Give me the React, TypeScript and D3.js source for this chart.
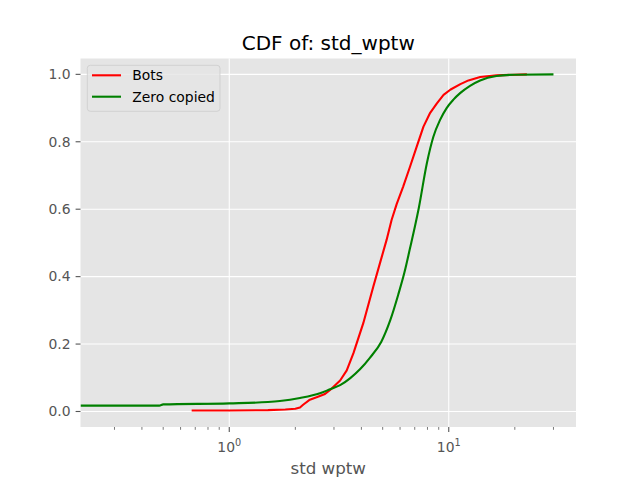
import React from "react";
import * as d3 from "d3";

const botsX = [0.674, 1.0, 1.5, 1.8, 2.0, 2.1, 2.17, 2.33, 2.5, 2.73, 2.88, 3.2, 3.43, 3.68, 4.08, 4.53, 4.86, 5.21, 5.49, 5.79, 6.2, 6.66, 7.14, 7.67, 8.23, 8.83, 9.47, 10.2, 11.3, 12.3, 13.9, 16.5, 22.7];
const botsY = [0.003, 0.003, 0.004, 0.006, 0.008, 0.012, 0.02, 0.035, 0.042, 0.052, 0.064, 0.092, 0.122, 0.173, 0.262, 0.37, 0.44, 0.509, 0.568, 0.615, 0.667, 0.726, 0.785, 0.845, 0.886, 0.914, 0.939, 0.955, 0.971, 0.982, 0.992, 0.997, 1.0];

const zeroX = [0.21, 0.48, 0.5, 1.0, 1.5, 1.7, 2.1, 2.59, 2.88, 3.2, 3.56, 3.94, 4.38, 4.93, 5.41, 5.89, 6.28, 6.66, 7.02, 7.3, 7.94, 8.51, 9.13, 9.78, 10.5, 11.3, 12.5, 13.9, 16.5, 20, 30];
const zeroY = [0.0175, 0.0175, 0.021, 0.024, 0.028, 0.031, 0.04, 0.054, 0.066, 0.078, 0.099, 0.125, 0.16, 0.207, 0.27, 0.347, 0.412, 0.484, 0.55, 0.603, 0.735, 0.815, 0.865, 0.9, 0.925, 0.945, 0.966, 0.982, 0.995, 0.999, 1.0];

const seriesNames = ["Bots", "Zero copied"];
const seriesColors = ["#ff0000", "#008000"];
const yTicks = [0, 0.2, 0.4, 0.6, 0.8, 1.0];
const xMajor = [1, 10];
const xMinor = [0.3, 0.4, 0.5, 0.6, 0.7, 0.8, 0.9, 2, 3, 4, 5, 6, 7, 8, 9, 20, 30];

const L = 80.5, R = 576, T = 58.5, B = 427;
const FONT = "'DejaVu Sans', sans-serif";

export default function App() {
  const x = d3.scaleLog().domain([0.21, 38.0]).range([L, R]);
  const y = d3.scaleLinear().domain([-0.046, 1.047]).range([B, T]);
  const lineLin = d3.line<[number, number]>().x(d => x(d[0])).y(d => y(d[1]));
  const lineSmooth = d3.line<[number, number]>().x(d => x(d[0])).y(d => y(d[1])).curve(d3.curveMonotoneX);
  const bots = botsX.map((v, i) => [v, botsY[i]] as [number, number]);
  const zero = zeroX.map((v, i) => [v, zeroY[i]] as [number, number]);
  const paths = [lineLin(bots) || "", lineSmooth(zero) || ""];

  return (
    <svg width={640} height={480} style={{ position: "absolute", left: 0, top: 0, background: "#fff" }} fontFamily={FONT}>
      <defs>
        <clipPath id="plotclip">
          <rect x={L} y={T} width={R - L} height={B - T} />
        </clipPath>
      </defs>
      <rect x={L} y={T} width={R - L} height={B - T} fill="#e5e5e5" />
      {yTicks.map(t => (
        <line key={"gy" + t} x1={L} x2={R} y1={y(t)} y2={y(t)} stroke="#fff" strokeWidth={1.1} />
      ))}
      {xMajor.map(t => (
        <line key={"gx" + t} x1={x(t)} x2={x(t)} y1={T} y2={B} stroke="#fff" strokeWidth={1.1} />
      ))}
      <g clipPath="url(#plotclip)">
        {paths.map((p, i) => (
          <path key={i} d={p} fill="none" stroke={seriesColors[i]} strokeWidth={2.1} strokeLinejoin="round" />
        ))}
      </g>
      {yTicks.map(t => (
        <g key={"ty" + t}>
          <line x1={L - 4.9} x2={L} y1={y(t)} y2={y(t)} stroke="#555" strokeWidth={1.1} />
          <text x={L - 10} y={y(t)} dy="0.35em" textAnchor="end" fontSize={13.9} fill="#555">{d3.format(".1f")(t)}</text>
        </g>
      ))}
      {xMajor.map(t => (
        <g key={"tx" + t}>
          <line x1={x(t)} x2={x(t)} y1={B} y2={B + 4.9} stroke="#555" strokeWidth={1.1} />
          <text x={x(t)} y={451.5} textAnchor="middle" fontSize={13.9} fill="#555">
            10<tspan dy={-6} fontSize={9.7}>{Math.round(Math.log10(t))}</tspan>
          </text>
        </g>
      ))}
      {xMinor.map(t => (
        <line key={"mx" + t} x1={x(t)} x2={x(t)} y1={B} y2={B + 2.8} stroke="#555" strokeWidth={0.8} />
      ))}
      <text x={(L + R) / 2} y={474} textAnchor="middle" fontSize={16.7} fill="#555">std wptw</text>
      <text x={(L + R) / 2} y={49.5} textAnchor="middle" fontSize={20} fill="#000">CDF of: std_wptw</text>
      <rect x={87.3} y={65.3} width={132.7} height={46} rx={3} ry={3} fill="#e5e5e5" fillOpacity={0.8} stroke="#cccccc" strokeOpacity={0.8} strokeWidth={1} />
      {seriesNames.map((n, i) => (
        <g key={n}>
          <line x1={92} x2={121} y1={75.3 + i * 21.4} y2={75.3 + i * 21.4} stroke={seriesColors[i]} strokeWidth={2.1} />
          <text x={132.3} y={75.3 + i * 21.4} dy="0.35em" fontSize={13.9} fill="#000">{n}</text>
        </g>
      ))}
    </svg>
  );
}
